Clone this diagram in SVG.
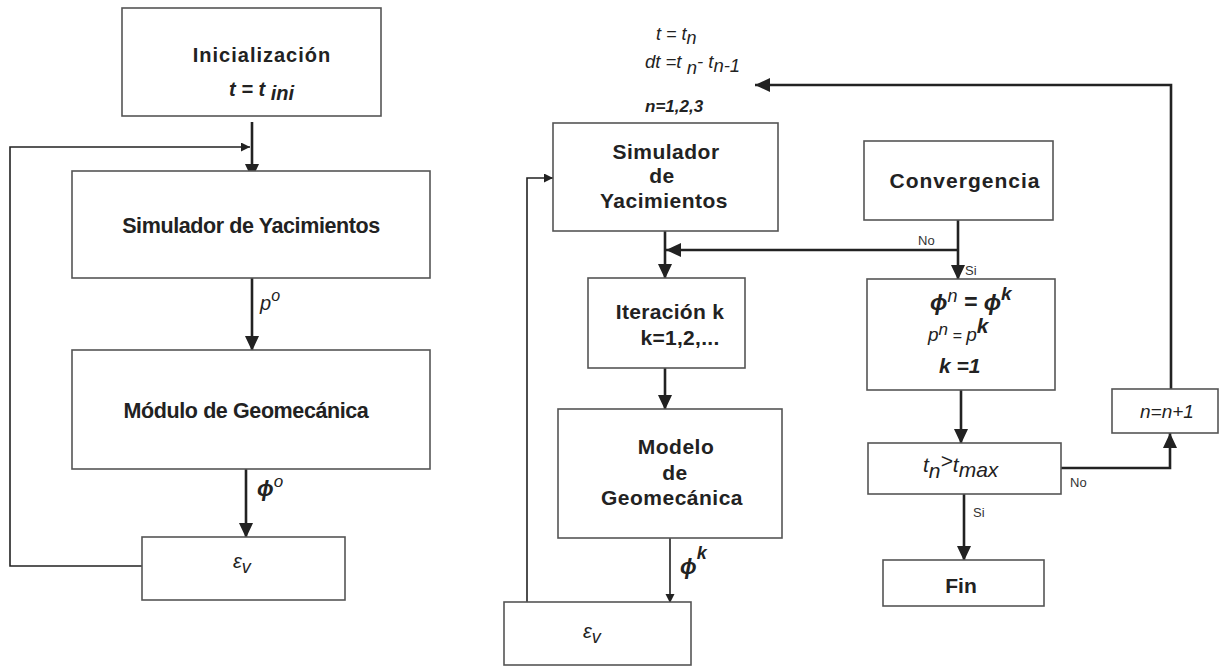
<svg xmlns="http://www.w3.org/2000/svg" width="1220" height="667" viewBox="0 0 1220 667">
<style>
.box{fill:#fff;stroke:#555;stroke-width:1.6}
.lbl{font-family:"Liberation Sans",Arial,sans-serif;font-weight:bold;fill:#222}
.m{font-family:"Liberation Sans",Arial,sans-serif;font-style:italic;fill:#222}
.c{stroke:#222;fill:none}
.thick{stroke-width:2.6}
.thin{stroke-width:1.6}
.yn{font-family:"Liberation Sans",Arial,sans-serif;font-size:13px;fill:#333}
</style>
<defs>
<marker id="big" markerUnits="userSpaceOnUse" markerWidth="16" markerHeight="14" refX="15" refY="7" orient="auto">
<path d="M0,0 L15,7 L0,14 z" fill="#222"/>
</marker>
<marker id="small" markerUnits="userSpaceOnUse" markerWidth="10" markerHeight="10" refX="9" refY="4.5" orient="auto">
<path d="M0,0 L9,4.5 L0,9 z" fill="#222"/>
</marker>
</defs>

<g id="connectors">
<!-- left -->
<line class="c thick" x1="252" y1="122" x2="252" y2="179" marker-end="url(#big)"/>
<polyline class="c thin" points="142,566 10,566 10,147 250,147" marker-end="url(#small)"/>
<line class="c thick" x1="252" y1="278" x2="252" y2="351" marker-end="url(#big)"/>
<line class="c thick" x1="246" y1="469" x2="246" y2="538" marker-end="url(#big)"/>
<!-- right -->
<polyline class="c thin" points="527,602 527,178 553,178" marker-end="url(#small)"/>
<line class="c thick" x1="665" y1="231" x2="665" y2="279" marker-end="url(#big)"/>
<line class="c thick" x1="958" y1="220" x2="958" y2="280" marker-end="url(#big)"/>
<line class="c thick" x1="958" y1="250" x2="666" y2="250" marker-end="url(#big)"/>
<line class="c thick" x1="665" y1="368" x2="665" y2="410" marker-end="url(#big)"/>
<line class="c thin" x1="670" y1="538" x2="670" y2="603" marker-end="url(#small)"/>
<line class="c thick" x1="961" y1="390" x2="961" y2="444" marker-end="url(#big)"/>
<polyline class="c thick" points="1061,468 1170,468 1170,433" marker-end="url(#big)"/>
<polyline class="c thick" points="1171,389 1171,85 755,85" marker-end="url(#big)"/>
<line class="c thick" x1="964" y1="494" x2="964" y2="561" marker-end="url(#big)"/>
<text class="yn" x="918" y="245">No</text>
<text class="yn" x="965" y="275">Si</text>
<text class="yn" x="1070" y="487">No</text>
<text class="yn" x="973" y="517">Si</text>
<text class="m" x="260" y="310" font-size="20">p<tspan font-size="16" dy="-9">o</tspan></text>
<text class="m" x="257" y="496" font-size="22" font-weight="bold">ϕ<tspan font-size="17" font-weight="normal" dy="-9">o</tspan></text>
<text class="m" x="680" y="574" font-size="22" font-weight="bold">ϕ<tspan font-size="18" dy="-15">k</tspan></text>
</g>

<g id="n-ini">
<rect class="box" x="122" y="8" width="259" height="108"/>
<text class="lbl" x="262" y="62" font-size="20" letter-spacing="1" text-anchor="middle">Inicialización</text>
<text class="m" x="229" y="96" font-size="20" font-weight="bold">t = t <tspan dy="4">ini</tspan></text>
</g>

<g id="n-sim-left">
<rect class="box" x="72" y="171" width="358" height="107"/>
<text class="lbl" x="251" y="233" font-size="21.5" letter-spacing="-0.4" text-anchor="middle">Simulador de Yacimientos</text>
</g>

<g id="n-geo-left">
<rect class="box" x="72" y="350" width="358" height="119"/>
<text class="lbl" x="246" y="418" font-size="21.5" letter-spacing="-0.4" text-anchor="middle">Módulo de Geomecánica</text>
</g>

<g id="n-ev-left">
<rect class="box" x="142" y="537" width="203" height="63"/>
<text class="m" x="233" y="568" font-size="20">ε<tspan font-size="18" dy="5">v</tspan></text>
</g>

<g id="n-time">
<text class="m" x="656" y="40" font-size="18">t = t<tspan dy="4">n</tspan></text>
<text class="m" x="645" y="68" font-size="18.5">dt =t <tspan dy="6">n</tspan><tspan dy="-6">- t</tspan><tspan dy="4">n-1</tspan></text>
<text class="m" x="645" y="112" font-size="17" font-weight="bold">n=1,2,3</text>
</g>

<g id="n-sim-right">
<rect class="box" x="553" y="123" width="225" height="108"/>
<text class="lbl" font-size="21" letter-spacing="0.5" text-anchor="middle"><tspan x="666" y="159">Simulador</tspan><tspan x="662" y="183">de</tspan><tspan x="664" y="208">Yacimientos</tspan></text>
</g>

<g id="n-conv">
<rect class="box" x="864" y="141" width="189" height="79"/>
<text class="lbl" x="965" y="188" font-size="21" letter-spacing="1" text-anchor="middle">Convergencia</text>
</g>

<g id="n-iter">
<rect class="box" x="588" y="278" width="157" height="90"/>
<text class="lbl" font-size="21" letter-spacing="0.3" text-anchor="middle"><tspan x="670" y="319">Iteración k</tspan><tspan x="680" y="345">k=1,2,...</tspan></text>
</g>

<g id="n-modelo">
<rect class="box" x="558" y="409" width="224" height="129"/>
<text class="lbl" font-size="21" letter-spacing="0.5" text-anchor="middle"><tspan x="676" y="454">Modelo</tspan><tspan x="675" y="480">de</tspan><tspan x="672" y="505">Geomecánica</tspan></text>
</g>

<g id="n-ev-right">
<rect class="box" x="504" y="602" width="187" height="63"/>
<text class="m" x="583" y="638" font-size="20">ε<tspan font-size="18" dy="5">v</tspan></text>
</g>

<g id="n-update">
<rect class="box" x="867" y="279" width="188" height="111"/>
<text class="m" x="930" y="310" font-size="23" font-weight="bold">ϕ<tspan font-size="18" font-weight="normal" dy="-8">n</tspan><tspan dy="8"> = ϕ</tspan><tspan font-size="19" dy="-10">k</tspan></text>
<text class="m" x="928" y="341" font-size="19">p<tspan font-size="17" dy="-6">n</tspan><tspan font-size="16" dy="6"> = </tspan><tspan>p</tspan><tspan font-size="21" font-weight="bold" dy="-8">k</tspan></text>
<text class="m" x="939" y="373" font-size="21" font-weight="bold">k =1</text>
</g>

<g id="n-tmax">
<rect class="box" x="868" y="443" width="193" height="51"/>
<text class="m" x="923" y="472" font-size="21">t<tspan dy="6">n</tspan><tspan dy="-10">&gt;</tspan><tspan dy="4">t</tspan><tspan dy="5">max</tspan></text>
</g>

<g id="n-next">
<rect class="box" x="1112" y="389" width="106" height="44"/>
<text class="m" x="1140" y="418" font-size="19">n=n+1</text>
</g>

<g id="n-fin">
<rect class="box" x="883" y="560" width="161" height="46"/>
<text class="lbl" x="961" y="593" font-size="21" text-anchor="middle">Fin</text>
</g>
</svg>
